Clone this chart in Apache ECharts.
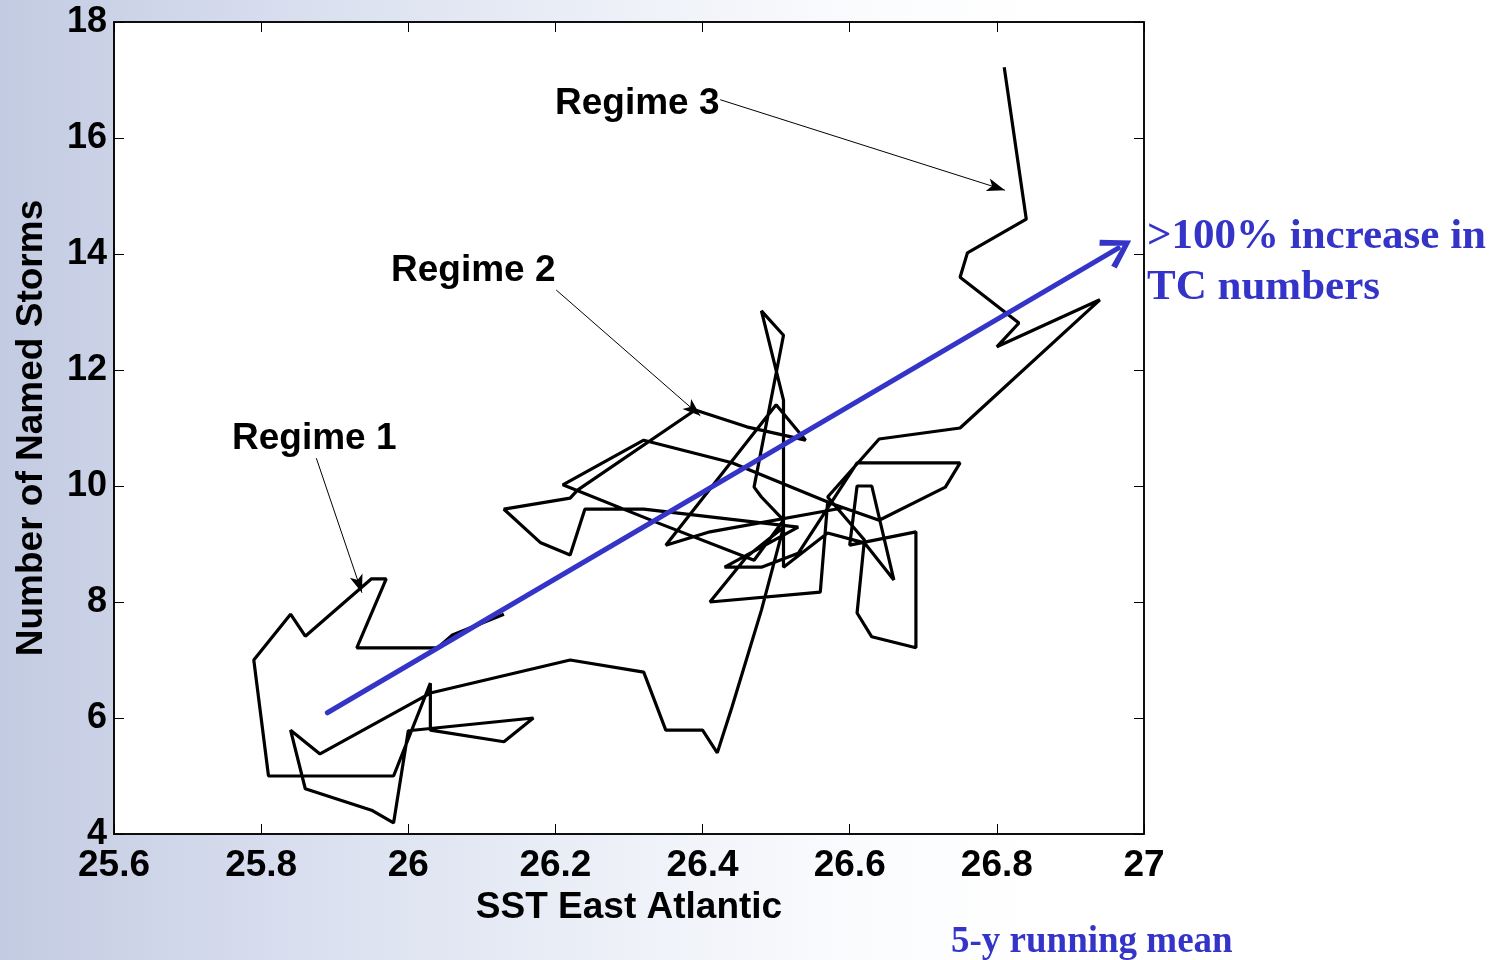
<!DOCTYPE html>
<html>
<head>
<meta charset="utf-8">
<script src="https://cdn.jsdelivr.net/npm/echarts@6/dist/echarts.min.js"></script>
<style>
html,body{margin:0;padding:0;width:1503px;height:960px;overflow:hidden;
background:linear-gradient(to right,#c3cbe2 0%,#d9dfef 20%,#eef1f8 42%,#fbfcfe 58%,#ffffff 70%);}
#c{width:1503px;height:960px;}
</style>
</head>
<body>
<div id="c"></div>
<script>
// 5-y running mean path: SST East Atlantic vs number of named storms
const sstPath = [26.13,26.06,26.04,25.93,25.97,25.95,25.86,25.84,25.79,25.81,25.98,26.03,26.03,26.13,26.17,26.00,25.98,25.95,25.86,25.84,25.88,26.03,26.22,26.32,26.35,26.40,26.42,26.44,26.48,26.51,26.46,26.41,26.56,26.57,26.64,26.73,26.75,26.61,26.53,26.48,26.43,26.53,26.32,26.24,26.22,26.18,26.13,26.22,26.23,26.39,26.46,26.54,26.50,26.35,26.41,26.59,26.44,26.32,26.21,26.34,26.47,26.51,26.48,26.47,26.51,26.48,26.51,26.51,26.57,26.62,26.66,26.63,26.61,26.60,26.69,26.69,26.63,26.61,26.62,26.57,26.64,26.75,26.94,26.80,26.83,26.75,26.76,26.84,26.81];
const stormsPath = [7.79,7.43,7.21,7.21,8.40,8.40,7.41,7.79,7.00,5.00,5.00,6.60,5.79,5.59,6.00,5.78,4.19,4.41,4.78,5.79,5.38,6.43,7.00,6.79,5.79,5.79,5.40,6.19,7.86,9.29,8.78,8.00,8.17,9.72,9.41,9.98,10.40,10.40,8.84,8.60,8.60,9.29,9.60,9.60,8.81,9.02,9.60,9.79,9.93,11.31,11.02,10.79,11.40,8.98,9.21,9.62,10.40,10.79,10.02,9.36,8.72,9.41,9.81,9.98,12.60,13.02,11.48,8.60,9.19,9.02,8.38,10.00,10.00,8.98,9.21,7.21,7.40,7.81,9.07,9.81,10.81,11.00,13.21,12.40,12.81,13.60,14.02,14.60,17.22];

// trend arrow (start, end)
const trendSst = [25.89, 26.965];
const trendStorms = [6.09, 14.10];

// regime annotation arrows: label end -> pointed end
const regimeNames = ['Regime 1','Regime 2','Regime 3'];
const regimeFromSst = [25.875, 26.201, 26.424];
const regimeFromStorms = [10.48, 13.38, 16.66];
const regimeToSst = [25.937, 26.397, 26.811];
const regimeToStorms = [8.16, 11.21, 15.10];

const xTicks = ['25.6','25.8','26','26.2','26.4','26.6','26.8','27'];
const yTicks = [4,6,8,10,12,14,16,18];

const pathData = sstPath.map((x,i)=>[x, stormsPath[i]]);
const font = "'Liberation Sans', Arial, sans-serif";
const serif = "'Liberation Serif', 'Times New Roman', serif";

const chart = echarts.init(document.getElementById('c'), null, {renderer:'canvas'});
const blue = '#3434c8';

const regimeLines = regimeNames.map((n,i)=>[
  {coord:[regimeFromSst[i], regimeFromStorms[i]]},
  {coord:[regimeToSst[i], regimeToStorms[i]]}
]);

chart.setOption({
  animation:false,
  backgroundColor:'transparent',
  grid:{left:114, right:359, top:22, bottom:126, show:true, backgroundColor:'#ffffff', borderColor:'#000', borderWidth:1.5},
  xAxis:[{
    type:'value', min:25.6, max:27, interval:0.2,
    axisLine:{show:true, lineStyle:{color:'#000', width:1.5}},
    axisTick:{show:true, inside:true, length:10, lineStyle:{color:'#000', width:1}},
    splitLine:{show:false},
    axisLabel:{color:'#000', fontFamily:font, fontWeight:'bold', fontSize:37, margin:13,
      formatter:(v)=>{const s=Number(v.toFixed(1)).toString(); return xTicks.indexOf(s)>=0?s:'';}},
    name:'SST East Atlantic', nameLocation:'middle', nameGap:53,
    nameTextStyle:{color:'#000', fontFamily:font, fontWeight:'bold', fontSize:37}
  },{
    type:'value', position:'top', min:25.6, max:27, interval:0.2,
    axisLine:{show:true, lineStyle:{color:'#000', width:1.5}},
    axisTick:{show:true, inside:true, length:10, lineStyle:{color:'#000', width:1}},
    axisLabel:{show:false}, splitLine:{show:false}
  }],
  yAxis:[{
    type:'value', min:4, max:18, interval:2,
    axisLine:{show:true, lineStyle:{color:'#000', width:1.5}},
    axisTick:{show:true, inside:true, length:10, lineStyle:{color:'#000', width:1}},
    splitLine:{show:false},
    axisLabel:{color:'#000', fontFamily:font, fontWeight:'bold', fontSize:36, margin:7,
      formatter:(v)=>yTicks.indexOf(v)>=0?String(v):''},
    name:'Number of Named Storms', nameLocation:'middle', nameGap:64, nameRotate:90,
    nameTextStyle:{color:'#000', fontFamily:font, fontWeight:'bold', fontSize:37}
  },{
    type:'value', position:'right', min:4, max:18, interval:2,
    axisLine:{show:true, lineStyle:{color:'#000', width:1.5}},
    axisTick:{show:true, inside:true, length:10, lineStyle:{color:'#000', width:1}},
    axisLabel:{show:false}, splitLine:{show:false}
  }],
  series:[{
    type:'line', data:pathData, showSymbol:false, symbol:'none',
    lineStyle:{color:'#000', width:3.2}, z:3,
    markLine:{
      silent:true, symbol:['none','arrow'], symbolSize:[10,18],
      lineStyle:{color:'#000', width:1, type:'solid'},
      itemStyle:{color:'#000'},
      label:{show:false},
      data:regimeLines, z:5
    }
  },{
    type:'line', data:[], showSymbol:false,
    markLine:{
      silent:true,
      symbol:['none','path://M0,0 L10,16 L7,18 L0,6 L-7,18 L-10,16 Z'],
      symbolSize:[34,30], symbolKeepAspect:true,
      lineStyle:{color:blue, width:5, type:'solid', cap:'round'},
      itemStyle:{color:blue},
      label:{show:false},
      data:[[{coord:[trendSst[0], trendStorms[0]]},{coord:[trendSst[1], trendStorms[1]]}]]
    }, z:6
  }],
  graphic:[
    {type:'text', left:232, top:420, style:{text:regimeNames[0], fill:'#000', font:"bold 37px "+font}},
    {type:'text', left:391, top:252, style:{text:regimeNames[1], fill:'#000', font:"bold 37px "+font}},
    {type:'text', left:555, top:85, style:{text:regimeNames[2], fill:'#000', font:"bold 37px "+font}},
    {type:'text', left:1147, top:215, style:{text:'>100% increase in', fill:blue, font:"bold 43px "+serif}},
    {type:'text', left:1147, top:266, style:{text:'TC numbers', fill:blue, font:"bold 43px "+serif}},
    {type:'text', left:951, top:924, style:{text:'5-y running mean', fill:blue, font:"bold 37px "+serif}}
  ]
});
</script>
</body>
</html>
